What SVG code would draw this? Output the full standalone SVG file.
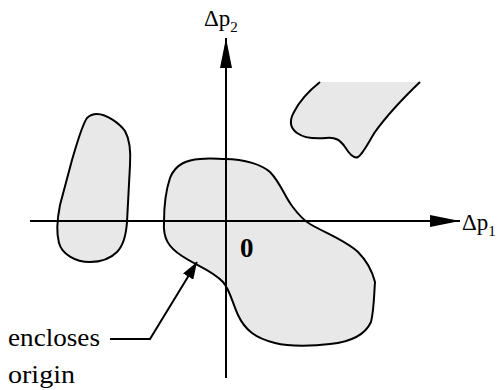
<svg xmlns="http://www.w3.org/2000/svg" width="503" height="390" viewBox="0 0 503 390">
<style>
.region{fill:#e8e8e8;stroke:#000;stroke-width:2;stroke-linejoin:round}
.axis{stroke:#000;stroke-width:2;fill:none}
text{font-family:"Liberation Serif","Times New Roman",serif;fill:#000}
</style>
<defs>
<marker id="ah" viewBox="0 0 30 12" refX="30" refY="6" markerWidth="30" markerHeight="12" markerUnits="userSpaceOnUse" orient="auto">
<path d="M0,0 L30,6 L0,12 Z" fill="#000"/>
</marker>
<marker id="ah2" viewBox="0 0 17 12" refX="17" refY="6" markerWidth="17" markerHeight="12" markerUnits="userSpaceOnUse" orient="auto">
<path d="M0,0 L17,6 L0,12 Z" fill="#000"/>
</marker>
</defs>
<g id="regions">
<g id="left-region"><path class="region" d="M97,114 C107,114 120,124 125,131 C130,140 131,150 130,165 L127,222 C126,236 123,246 117,252 C110,259 100,262 90,262 C75,262 62,254 59,243 C56,232 57,220 60,205 L72,160 C78,140 82,125 87,118 C90,115 94,114 97,114 Z"/></g>
<g id="center-region"><path class="region" d="M225,159 C245,159 262,165 270,172 C280,182 285,197 292,206 C298,214 303,220 310,224 C325,233 345,240 358,252 C366,260 372,270 375,282 C374,295 374,310 371,322 C365,335 350,342 330,344 C315,346 290,347 275,343 C255,338 245,330 238,315 C232,302 230,290 223,282 C212,270 195,265 182,256 C168,247 163,238 164,222 C164,205 166,190 170,178 C176,163 188,160 200,159 C210,158 218,159 225,159 Z"/></g>
<g id="topright-region"><path class="region" d="M420,82 C395,106 385,118 375,132 C368,143 363,154 358,157 C354,159 350,155 345,147 C340,140 336,137 326,138 C315,139 304,138 297,133 C290,128 289,121 294,112 C300,100 310,90 320,82"/></g>
</g>
<g id="connectors">
<line class="axis" x1="30" y1="221" x2="460" y2="221" marker-end="url(#ah)"/>
<line class="axis" x1="226" y1="378" x2="226" y2="38" marker-end="url(#ah)"/>
<polyline class="axis" points="110,339 150,339 197,262" stroke-width="1.6" marker-end="url(#ah2)"/>
</g>
<g id="labels">
<text x="204" y="26" font-size="23">Δp<tspan font-size="15" dy="6">2</tspan></text>
<text x="462" y="230" font-size="23">Δp<tspan font-size="15" dy="6">1</tspan></text>
<text x="240" y="257" font-size="27" font-weight="bold">0</text>
<text x="8" y="346" font-size="26" textLength="92" lengthAdjust="spacingAndGlyphs">encloses</text>
<text x="8" y="383" font-size="26" textLength="67" lengthAdjust="spacingAndGlyphs">origin</text>
</g>
</svg>
